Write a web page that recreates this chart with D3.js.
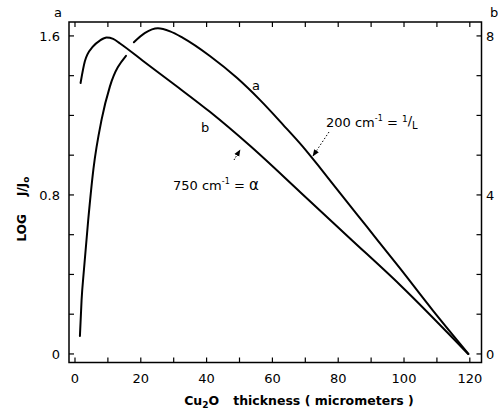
<!DOCTYPE html>
<html>
<head>
<meta charset="utf-8">
<script src="https://cdn.jsdelivr.net/npm/d3@7"></script>
<style>
	body { margin: 0; background: #fff; }
	svg { display: block; font-family: "DejaVu Sans", sans-serif; }
	.frame { fill: none; stroke: #000; stroke-width: 1.5; }
	.curve { fill: none; stroke: #000; stroke-width: 2; stroke-linejoin: round; stroke-linecap: round; }
	.tick { stroke: #000; stroke-width: 1.2; }
	.ticklabel { font-size: 13px; fill: #000; }
	.note { font-size: 13px; fill: #000; }
</style>
</head>
<body>
<svg id="chart" width="498" height="415"></svg>
<script>
// curve a : 200 cm-1 = 1/L  (null = break where it crosses curve b)
var aX = [1.5, 2.0, 2.7, 4.0, 5.6, 8.1, 10.6, 15.5, 16.7, 17.9, 21.3, 25.2, 28.9, 32.8, 41.0, 49.2, 56.2, 63.2, 69.3, 74.5, 79.6, 88.7, 98.8, 108.8, 119.6];
var aY = [0.09, 0.27, 0.42, 0.67, 0.93, 1.18, 1.345, 1.50, null, 1.568, 1.615, 1.638, 1.623, 1.590, 1.499, 1.389, 1.278, 1.154, 1.042, 0.936, 0.829, 0.640, 0.430, 0.218, 0.0];

// curve b : 750 cm-1 = alpha
var bX = [1.7, 3.0, 5.5, 7.6, 9.6, 11.6, 13.7, 20.7, 30.4, 41.0, 53.2, 68.4, 83.6, 98.8, 119.5];
var bY = [1.363, 1.472, 1.547, 1.577, 1.592, 1.585, 1.562, 1.474, 1.353, 1.218, 1.047, 0.815, 0.581, 0.347, 0.0];

var xTicks = d3.range(0, 121, 10);
var xTickLabels = [0, 20, 40, 60, 80, 100, 120];
var yTicks = d3.range(0, 1.61, 0.2);
var yTickLabels = [0, 0.8, 1.6];
var y2Ticks = d3.range(0, 9, 1);
var y2TickLabels = [0, 4, 8];

var svg = d3.select('#chart');

var pLeft = 69, pRight = 481.5, pTop = 22, pBottom = 362.5;

var x = d3.scaleLinear().domain([-1.82, 123.55]).range([pLeft, pRight]);
var y = d3.scaleLinear().domain([-0.043, 1.67]).range([pBottom, pTop]);
var y2 = d3.scaleLinear().domain([0, 8]).range([y(0), y(1.6)]);

function toPoints(xs, ys) {
	return xs.map(function(v, i) { return { x : v, y : ys[i] }; });
}

var line = d3.line()
	.defined(function(d) { return d.y != null; })
	.x(function(d) { return x(d.x); })
	.y(function(d) { return y(d.y); })
	.curve(d3.curveMonotoneX);

svg.append('path').attr('class', "curve").attr('d', line(toPoints(aX, aY)));
svg.append('path').attr('class', "curve").attr('d', line(toPoints(bX, bY)));

//Frame
svg.append('rect').attr('class', "frame")
	.attr('x', pLeft).attr('y', pTop)
	.attr('width', pRight - pLeft).attr('height', pBottom - pTop);

var tl = 5;

//Bottom and top ticks
xTicks.forEach(function(t) {
	svg.append('line').attr('class', "tick")
		.attr('x1', x(t)).attr('x2', x(t)).attr('y1', pBottom).attr('y2', pBottom - tl);
	svg.append('line').attr('class', "tick")
		.attr('x1', x(t)).attr('x2', x(t)).attr('y1', pTop).attr('y2', pTop + tl);
});
xTickLabels.forEach(function(t) {
	svg.append('text').attr('class', "ticklabel")
		.attr('x', x(t)).attr('y', 383)
		.attr('text-anchor', "middle")
		.text(t);
});

//Left ticks
yTicks.forEach(function(t) {
	svg.append('line').attr('class', "tick")
		.attr('x1', pLeft).attr('x2', pLeft + tl).attr('y1', y(t)).attr('y2', y(t));
});
yTickLabels.forEach(function(t) {
	svg.append('text').attr('class', "ticklabel")
		.attr('x', 60).attr('y', y(t) + 5)
		.attr('text-anchor', "end")
		.text(t === 0 ? "0" : t.toFixed(1));
});

//Right ticks
y2Ticks.forEach(function(t) {
	svg.append('line').attr('class', "tick")
		.attr('x1', pRight).attr('x2', pRight - tl).attr('y1', y2(t)).attr('y2', y2(t));
});
y2TickLabels.forEach(function(t) {
	svg.append('text').attr('class', "ticklabel")
		.attr('x', 486).attr('y', y2(t) + 5)
		.text(t);
});

//Corner letters
svg.append('text').attr('class', "ticklabel").attr('x', 54).attr('y', 17).text("a");
svg.append('text').attr('class', "ticklabel").attr('x', 490).attr('y', 17).text("b");

//Curve letters
svg.append('text').attr('class', "note").attr('x', 252).attr('y', 90).attr('font-size', "14px").text("a");
svg.append('text').attr('class', "note").attr('x', 201).attr('y', 132).attr('font-size', "14px").text("b");

//Axis titles
var yt = svg.append('text')
	.attr('transform', "translate(26,209) rotate(-90)")
	.attr('text-anchor', "middle")
	.attr('font-size', "12px")
	.attr('font-weight', "bold");
yt.append('tspan').text("LOG");
yt.append('tspan').attr('dx', 18).text("J/J");
yt.append('tspan').attr('font-size', "9px").attr('dy', 3).text("o");

var xt = svg.append('text')
	.attr('x', 299).attr('y', 405)
	.attr('text-anchor', "middle")
	.attr('font-size', "12.5px")
	.attr('font-weight', "bold");
xt.append('tspan').text("Cu");
xt.append('tspan').attr('font-size', "9px").attr('dy', 3).text("2");
xt.append('tspan').attr('dy', -3).text("O");
xt.append('tspan').attr('dx', 14).text("thickness ( micrometers )");

//Annotations
var defs = svg.append('defs');
defs.append('marker')
	.attr('id', "arrow")
	.attr('viewBox', "0 0 10 10")
	.attr('refX', 9).attr('refY', 5)
	.attr('markerWidth', 7).attr('markerHeight', 7)
	.attr('orient', "auto")
	.append('path').attr('d', "M0,1 L10,5 L0,9 z").attr('fill', "#000");

svg.append('line')
	.attr('x1', 329).attr('y1', 132).attr('x2', 313).attr('y2', 156)
	.attr('stroke', "#000").attr('stroke-width', 1)
	.attr('stroke-dasharray', "1.5,2")
	.attr('marker-end', "url(#arrow)");

svg.append('line')
	.attr('x1', 234).attr('y1', 160).attr('x2', 240).attr('y2', 150)
	.attr('stroke', "#000").attr('stroke-width', 1)
	.attr('stroke-dasharray', "1.5,1.5")
	.attr('marker-end', "url(#arrow)");

var n1 = svg.append('text').attr('class', "note").attr('x', 326).attr('y', 127);
n1.append('tspan').text("200 cm");
n1.append('tspan').attr('font-size', "8px").attr('dy', -6).text("-1");
n1.append('tspan').attr('dy', 6).text(" = ");
n1.append('tspan').attr('font-size', "9px").attr('dy', -5).text("1");
n1.append('tspan').attr('dy', 3).text("/");
n1.append('tspan').attr('font-size', "10px").attr('dy', 4).text("L");

var n2 = svg.append('text').attr('class', "note").attr('x', 173).attr('y', 190);
n2.append('tspan').text("750 cm");
n2.append('tspan').attr('font-size', "8px").attr('dy', -6).text("-1");
n2.append('tspan').attr('dy', 6).text(" = ");
n2.append('tspan').attr('font-size', "15px").text("α");
</script>
</body>
</html>
